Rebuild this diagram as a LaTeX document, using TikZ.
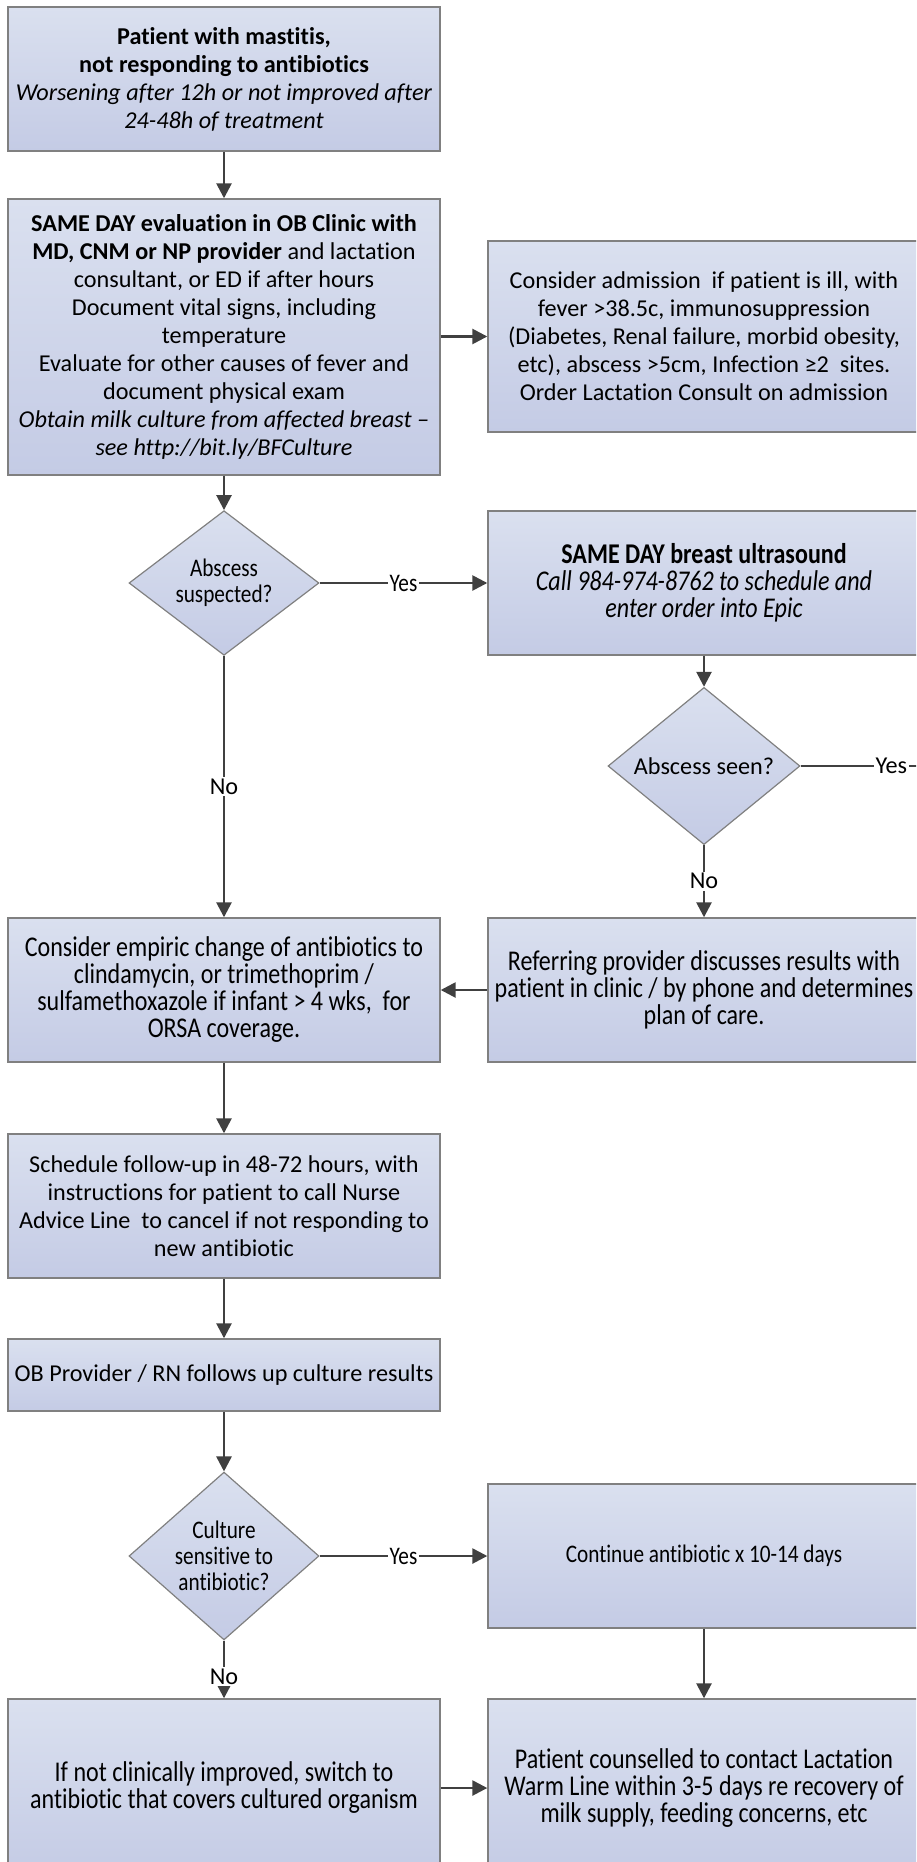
\documentclass[tikz,border=0pt]{standalone}
\usepackage{fontspec}
\setmainfont{Carlito}[Ligatures=NoCommon]
\newfontfamily\condfont{Carlito}[FakeStretch=0.84,Ligatures=NoCommon]
\usetikzlibrary{arrows.meta,shapes.geometric}
\definecolor{boxtop}{HTML}{DAE0EF}
\definecolor{boxbot}{HTML}{C4CBE5}
\definecolor{boxline}{HTML}{808080}
\definecolor{flow}{HTML}{404040}
\newcommand{\normaltext}{\fontsize{24.2}{28.0}\selectfont}
\newcommand{\condtext}{\condfont\fontsize{28.6}{27}\selectfont}
\newcommand{\condsmall}{\condfont\fontsize{25.3}{26}\selectfont}
\begin{document}
\begin{tikzpicture}[x=1pt,y=-1pt,
  procbox/.style={draw=boxline, line width=1.4pt, top color=boxtop, bottom color=boxbot,
    minimum width=432pt, inner sep=0pt, align=center, text=black, font=\normaltext},
  decbox/.style={draw=boxline, line width=1.2pt, diamond, top color=boxtop, bottom color=boxbot,
    minimum width=190pt, minimum height=144pt, inner sep=0pt, align=center, text=black, font=\normaltext},
  cond/.style={font=\condtext},
  condsm/.style={font=\condsmall},
  flowline/.style={draw=flow, line width=2.6pt, -{Triangle[length=15pt,width=15pt]}},
  plainline/.style={draw=flow, line width=2.6pt},
  lbl/.style={fill=white, inner sep=1.5pt, text=black, font=\normaltext}]
\useasboundingbox (0,0) rectangle (916,1862);
\clip (0,0) rectangle (916,1862);

% left column
\node[procbox, minimum height=144pt] (start) at (224,79)
  {\textbf{Patient with mastitis,}\\ \textbf{not responding to antibiotics}\\
   \textit{Worsening after 12h or not improved after}\\ \textit{24-48h of treatment}};
\node[procbox, minimum height=276pt] (eval) at (224,337)
  {\textbf{SAME DAY evaluation in OB Clinic with}\\
   \textbf{MD, CNM or NP provider} and lactation\\
   consultant, or ED if after hours\\
   Document vital signs, including\\
   temperature\\
   Evaluate for other causes of fever and\\
   document physical exam\\
   \textit{Obtain milk culture from affected breast –}\\
   \textit{see http://bit.ly/BFCulture}};
\node[decbox, condsm] (abs) at (224,583) {Abscess\\suspected?};
\node[procbox, cond, minimum height=144pt] (empiric) at (224,990)
  {Consider empiric change of antibiotics to\\
   clindamycin, or trimethoprim /\\
   sulfamethoxazole if infant > 4 wks,~ for\\
   ORSA coverage.};
\node[procbox, minimum height=144pt] (follow) at (224,1206)
  {Schedule follow-up in 48-72 hours, with\\
   instructions for patient to call Nurse\\
   Advice Line~ to cancel if not responding to\\
   new antibiotic};
\node[procbox, minimum height=72pt] (culture) at (224,1375)
  {OB Provider / RN follows up culture results};
\node[decbox, condsm] (sens) at (224,1556) {Culture\\sensitive to\\antibiotic?};
\node[procbox, cond, minimum height=178pt] (switch) at (224,1788)
  {If not clinically improved, switch to\\
   antibiotic that covers cultured organism};

% right column
\node[procbox, minimum height=191pt] (admit) at (704,336.5)
  {Consider admission~ if patient is ill, with\\
   fever >38.5c, immunosuppression\\
   (Diabetes, Renal failure, morbid obesity,\\
   etc), abscess >5cm, Infection ≥2~ sites.\\
   Order Lactation Consult on admission};
\node[procbox, cond, minimum height=144pt] (us) at (704,583)
  {\textbf{SAME DAY breast ultrasound}\\
   \textit{Call 984-974-8762 to schedule and}\\
   \textit{enter order into Epic}};
\node[decbox, minimum width=192pt, minimum height=143pt] (seen) at (704,766) {Abscess seen?};
\node[procbox, cond, minimum height=144pt] (refer) at (704,990)
  {Referring provider discusses results with\\
   patient in clinic / by phone and determines\\
   plan of care.};
\node[procbox, condsm, minimum height=144pt] (cont) at (704,1556)
  {Continue antibiotic x 10-14 days};
\node[procbox, cond, minimum height=178pt] (warm) at (704,1788)
  {Patient counselled to contact Lactation\\
   Warm Line within 3-5 days re recovery of\\
   milk supply, feeding concerns, etc};
\coordinate (seenyes) at (982,766);

% connectors
\draw[flowline] (start) -- (eval);
\draw[flowline] (eval.east |- admit) -- (admit);
\draw[flowline] (eval) -- (abs);
\draw[flowline] (abs) -- node[lbl, condsm]{Yes} (us);
\draw[flowline] (abs) -- node[lbl]{No} (empiric);
\draw[flowline] (us) -- (seen);
\draw[plainline] (seen.east) -- node[lbl]{Yes} (seenyes);
\draw[flowline] (seen) -- node[lbl]{No} (refer);
\draw[flowline] (refer) -- (empiric);
\draw[flowline] (empiric) -- (follow);
\draw[flowline] (follow) -- (culture);
\draw[flowline] (culture) -- (sens);
\draw[flowline] (sens) -- node[lbl, condsm]{Yes} (cont);
\draw[flowline] (sens) -- node[lbl, pos=0.62]{No} (switch);
\draw[flowline] (cont) -- (warm);
\draw[flowline] (switch) -- (warm);
\end{tikzpicture}
\end{document}
